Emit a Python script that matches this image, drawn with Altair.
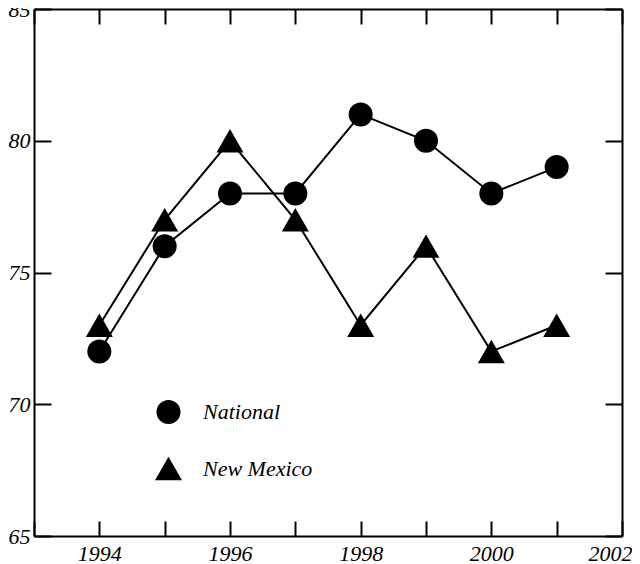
import altair as alt
import pandas as pd

years = [1994, 1995, 1996, 1997, 1998, 1999, 2000, 2001]
national = [72, 76, 78, 78, 81, 80, 78, 79]
new_mexico = [73, 77, 80, 77, 73, 76, 72, 73]
series_names = ["National", "New Mexico"]
x_ticks = list(range(1993, 2003))
y_ticks = [65, 70, 75, 80, 85]

rows = []
for y, a, b in zip(years, national, new_mexico):
    rows.append({"year": y, "value": a, "series": series_names[0]})
    rows.append({"year": y, "value": b, "series": series_names[1]})
df = pd.DataFrame(rows)

FONT = "Liberation Serif"
xscale = alt.Scale(domain=[1993, 2002], nice=False, zero=False)
yscale = alt.Scale(domain=[65, 85], nice=False, zero=False)

x_bottom = alt.X("year:Q", scale=xscale, title=None,
                 axis=alt.Axis(orient="bottom", values=x_ticks, domain=False, grid=False,
                               tickSize=15, offset=-15, tickColor="black", tickWidth=2,
                               labelExpr="datum.value % 2 == 0 ? format(datum.value, 'd') : ''",
                               labelFont=FONT, labelFontStyle="italic", labelFontSize=22,
                               labelColor="black", labelPadding=7,
                               labelFlush=True, labelFlushOffset=10))
y_left = alt.Y("value:Q", scale=yscale, title=None,
               axis=alt.Axis(orient="left", values=y_ticks, domain=False, grid=False,
                             tickSize=17, offset=-17, tickColor="black", tickWidth=2,
                             format="d", labelFont=FONT, labelFontStyle="italic",
                             labelFontSize=22, labelColor="black", labelPadding=4))

legend_kw = dict(title=None, orient="none", legendX=120, legendY=390,
                 padding=0, labelFont=FONT, labelFontStyle="italic",
                 labelFontSize=22, labelColor="black", labelOffset=20,
                 rowPadding=26, symbolFillColor="black",
                 symbolStrokeColor="black", symbolOpacity=1)

lines = alt.Chart(df).mark_line(color="black", strokeWidth=2).encode(
    x=x_bottom, y=y_left, detail="series:N")

points = alt.Chart(df).mark_point(filled=True, fill="black", color="black", opacity=1).encode(
    x=alt.X("year:Q", scale=xscale, axis=None),
    y=alt.Y("value:Q", scale=yscale, axis=None),
    shape=alt.Shape("series:N", scale=alt.Scale(domain=series_names, range=["circle", "triangle-up"]),
                    legend=alt.Legend(**legend_kw)),
    size=alt.Size("series:N", scale=alt.Scale(domain=series_names, range=[576, 729]),
                  legend=alt.Legend(**legend_kw)),
)

mirror = alt.Chart(df).mark_point(opacity=0).encode(
    x=alt.X("year:Q", scale=xscale, title=None,
            axis=alt.Axis(orient="top", values=x_ticks, domain=False, grid=False, labels=False,
                          tickSize=15, offset=-15, tickColor="black", tickWidth=2)),
    y=alt.Y("value:Q", scale=yscale, title=None,
            axis=alt.Axis(orient="right", values=y_ticks, domain=False, grid=False, labels=False,
                          tickSize=17, offset=-17, tickColor="black", tickWidth=2)),
)


def frame_axis(orient):
    return alt.Axis(orient=orient, domain=True, domainColor="black", domainWidth=2,
                    ticks=False, labels=False, grid=False, offset=0)


frame_bl = alt.Chart(df).mark_point(opacity=0).encode(
    x=alt.X("year:Q", scale=xscale, title=None, axis=frame_axis("bottom")),
    y=alt.Y("value:Q", scale=yscale, title=None, axis=frame_axis("left")),
)
frame_tr = alt.Chart(df).mark_point(opacity=0).encode(
    x=alt.X("year:Q", scale=xscale, title=None, axis=frame_axis("top")),
    y=alt.Y("value:Q", scale=yscale, title=None, axis=frame_axis("right")),
)

chart = alt.layer(lines, points, mirror, frame_bl, frame_tr).resolve_axis(
    x="independent", y="independent"
).properties(
    width=588, height=527,
    autosize=alt.AutoSizeParams(type="none"),
    padding={"left": 26, "top": 1, "right": 10, "bottom": 28},
).configure_view(stroke=None).configure(background="white")

chart.save("out.html", embed_options={"renderer": "svg", "actions": False})
